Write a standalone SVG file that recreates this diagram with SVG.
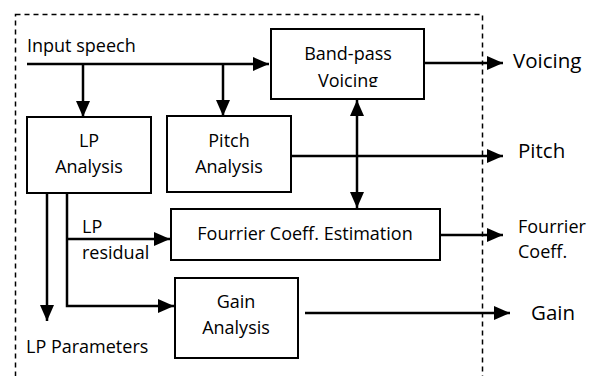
<svg xmlns="http://www.w3.org/2000/svg" width="592" height="376" viewBox="0 0 592 376">
<style>
text{font-family:"Open Sans","Noto Sans","Liberation Sans",sans-serif;fill:#000}
.box{fill:#fff;stroke:#000;stroke-width:2}
.ln{fill:none;stroke:#000;stroke-width:2.5}
.t{font-size:18px}
.c{text-anchor:middle}
.big{font-size:20.5px}
</style>
<defs>
<marker id="ah" viewBox="0 0 16 14" refX="16" refY="7" markerWidth="16" markerHeight="14" markerUnits="userSpaceOnUse" orient="auto-start-reverse">
<path d="M0,0 L16,7 L0,14 Z" fill="#000"/>
</marker>
<clipPath id="bpclip"><rect x="271" y="29" width="153" height="58"/></clipPath>
</defs>
<rect x="15.5" y="14.5" width="467" height="380" fill="none" stroke="#000" stroke-width="1.5" stroke-dasharray="5,4"/>
<g id="connectors">
<path class="ln" d="M27,64 H269" marker-end="url(#ah)"/>
<path class="ln" d="M83,64 V117" marker-end="url(#ah)"/>
<path class="ln" d="M223,64 V116" marker-end="url(#ah)"/>
<path class="ln" d="M424,63 H503" marker-end="url(#ah)"/>
<path class="ln" d="M357,100 V208" marker-start="url(#ah)" marker-end="url(#ah)"/>
<path class="ln" d="M291,156 H503" marker-end="url(#ah)"/>
<path class="ln" d="M440,235 H503" marker-end="url(#ah)"/>
<path class="ln" d="M47,193 V321" marker-end="url(#ah)"/>
<path class="ln" d="M67,193 V306 H174" marker-end="url(#ah)"/>
<path class="ln" d="M67,239 H170" marker-end="url(#ah)"/>
<path class="ln" d="M305,313 H510" marker-end="url(#ah)"/>
</g>
<g id="input-label"><text class="t" x="27" y="52">Input speech</text></g>
<g id="bandpass">
<rect class="box" x="271" y="29" width="153" height="70"/>
<g clip-path="url(#bpclip)">
<text class="t c" x="348" y="60">Band-pass</text>
<text class="t c" x="348" y="87">Voicing</text>
</g>
</g>
<g id="lp">
<rect class="box" x="27" y="117" width="124" height="76"/>
<text class="t c" x="89" y="147">LP</text>
<text class="t c" x="89" y="173">Analysis</text>
</g>
<g id="pitch">
<rect class="box" x="167" y="116" width="124" height="76"/>
<text class="t c" x="229" y="147">Pitch</text>
<text class="t c" x="229" y="173">Analysis</text>
</g>
<g id="fourrier">
<rect class="box" x="171" y="209" width="269" height="51"/>
<text class="t c" x="305" y="240">Fourrier Coeff. Estimation</text>
</g>
<g id="gain">
<rect class="box" x="175" y="278" width="123" height="80"/>
<text class="t c" x="236" y="308">Gain</text>
<text class="t c" x="236" y="334">Analysis</text>
</g>
<g id="labels">
<text class="t" x="82" y="233">LP</text>
<text class="t" x="82" y="259">residual</text>
<text class="t" x="26" y="353">LP Parameters</text>
<text class="big" x="513" y="68">Voicing</text>
<text class="big" x="518" y="158">Pitch</text>
<text class="t" x="518" y="233">Fourrier</text>
<text class="t" x="518" y="258">Coeff.</text>
<text class="big" x="531" y="320">Gain</text>
</g>
</svg>
